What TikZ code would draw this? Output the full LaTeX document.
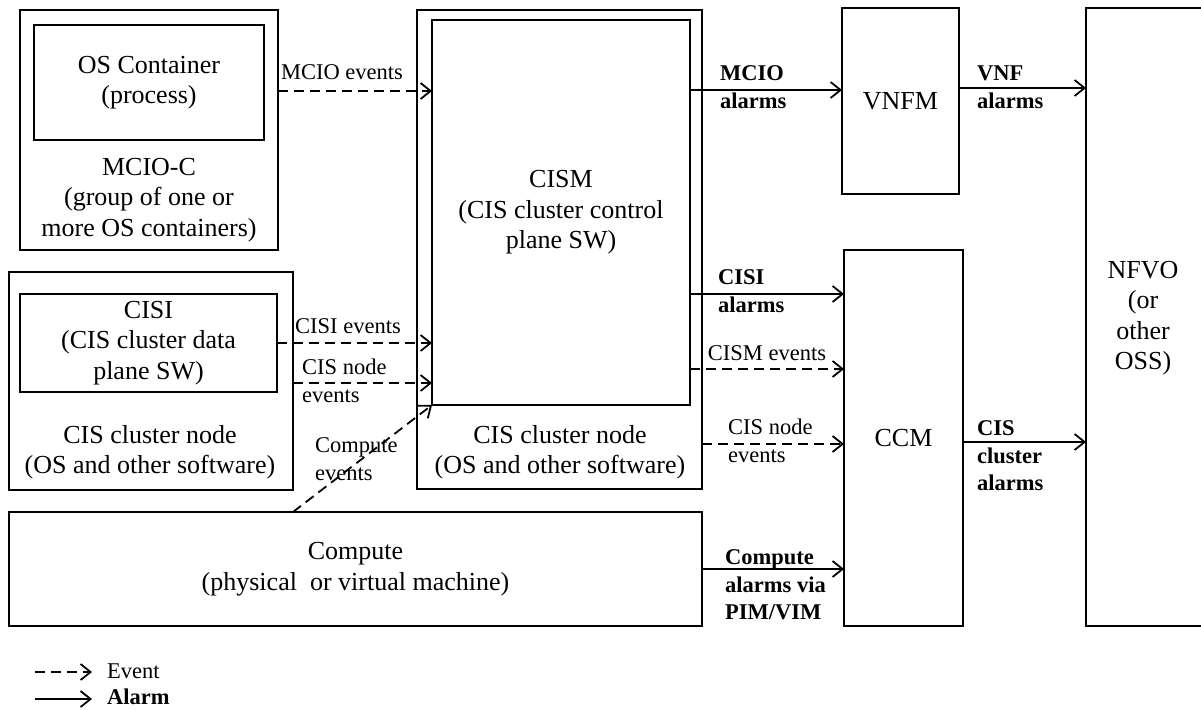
\documentclass[tikz,border=0pt]{standalone}
\usepackage{fontspec}
\setmainfont{Liberation Serif}
\usetikzlibrary{arrows.meta}

\begin{document}
\begin{tikzpicture}[x=1pt, y=-1pt,
	box/.style={draw, line width=1.8pt, inner sep=0pt, outer sep=0pt, anchor=north west, align=center, font=\fontsize{26}{30.5}\selectfont},
	txt/.style={align=center, inner sep=0pt, font=\fontsize{26}{30.5}\selectfont},
	lbl/.style={align=left, inner sep=0pt, font=\fontsize{22.5}{27.5}\selectfont},
	almlbl/.style={lbl, font=\fontsize{22.5}{27.5}\selectfont\bfseries},
	event/.style={line width=1.8pt, dash pattern=on 10pt off 6pt, -{Straight Barb[length=10pt,width=16pt,line width=1.8pt]}},
	alarm/.style={line width=1.8pt, -{Straight Barb[length=10pt,width=16pt,line width=1.8pt]}}]
	\useasboundingbox (0,0) rectangle (1201,709);
	\clip (0,0) rectangle (1201,709);
	
	% boxes
	\node[box, minimum width=258pt, minimum height=240pt] (mcioc) at (20,10) {};
	\node[box, minimum width=230pt, minimum height=115pt] (osc) at (34,25) {OS Container\\(process)};
	\node[box, minimum width=284pt, minimum height=218pt] (cisnodel) at (9,272) {};
	\node[box, minimum width=257pt, minimum height=98pt] (cisi) at (20,294) {CISI\\(CIS cluster data\\plane SW)};
	\node[box, minimum width=285pt, minimum height=479pt] (cisnode) at (417,10) {};
	\node[box, minimum width=258pt, minimum height=385pt] (cism) at (432,20) {CISM\\(CIS cluster control\\plane SW)};
	\node[box, minimum width=117pt, minimum height=186pt] (vnfm) at (842,8) {VNFM};
	\node[box, minimum width=119pt, minimum height=376pt] (ccm) at (844,250) {CCM};
	\node[box, minimum width=130pt, minimum height=618pt] (nfvo) at (1086,8) {};
	\node[box, minimum width=693pt, minimum height=114pt] (compute) at (9,512) {Compute\\(physical~ or virtual machine)};
	
	% texts in the outer boxes
	\node[txt] (mciotxt) at (149,200) {MCIO-C\\(group of one or\\more OS containers)};
	\node[txt] (nodetxtl) at (150,452) {CIS cluster node\\(OS and other software)};
	\node[txt] (nodetxt) at (560,452) {CIS cluster node\\(OS and other software)};
	\node[txt] (nfvotxt) at (1143,318) {NFVO\\(or\\other\\OSS)};
	
	% events
	\draw[event] (mcioc.east |- 0,91) -- (cism.west |- 0,91);
	\draw[event] (cisi.east |- 0,343) -- (cism.west |- 0,343);
	\draw[event] (cisnodel.east |- 0,383) -- (cism.west |- 0,383);
	\draw[event] (cisnodel.east |- compute.north) -- (cism.south west);
	\draw[event] (cism.east |- 0,369) -- (ccm.west |- 0,369);
	\draw[event] (cisnode.east |- 0,444) -- (ccm.west |- 0,444);
	
	% alarms
	\draw[alarm] (cism.east |- 0,90) -- (vnfm.west |- 0,90);
	\draw[alarm] (vnfm.east |- 0,88) -- (nfvo.west |- 0,88);
	\draw[alarm] (cism.east |- 0,294) -- (ccm.west |- 0,294);
	\draw[alarm] (ccm.east |- 0,442) -- (nfvo.west |- 0,442);
	\draw[alarm] (compute.east |- 0,569) -- (ccm.west |- 0,569);
	
	% labels
	\node[lbl] (mcioevt) at (342,72) {MCIO events};
	\node[lbl] (cisievt) at (348,326) {CISI events};
	\node[lbl, anchor=west] (nodeevtl) at (302,381) {CIS node\\events};
	\node[lbl, anchor=west] (computeevt) at (315,459) {Compute\\events};
	\node[lbl] (cismevt) at (767,353) {CISM events};
	\node[lbl, anchor=west] (nodeevt) at (728,441) {CIS node\\events};
	\node[almlbl, anchor=west] (mcioalm) at (720,87) {MCIO\\alarms};
	\node[almlbl, anchor=west] (vnfalm) at (977,87) {VNF\\alarms};
	\node[almlbl, anchor=west] (cisialm) at (718,291) {CISI\\alarms};
	\node[almlbl, anchor=west] (clusteralm) at (977,456) {CIS\\cluster\\alarms};
	\node[almlbl, anchor=west] (computealm) at (725,585) {Compute\\alarms via\\PIM/VIM};
	
	% legend
	\node[lbl, anchor=west] (evtkey) at (107,671) {Event};
	\node[almlbl, anchor=west] (almkey) at (107,697) {Alarm};
	\coordinate (evtstart) at (35,672);
	\coordinate (almstart) at (35,699);
	\draw[event] (evtstart) -- ([xshift=-15pt]evtkey.west |- evtstart);
	\draw[alarm] (almstart) -- ([xshift=-15pt]almkey.west |- almstart);
\end{tikzpicture}
\end{document}
